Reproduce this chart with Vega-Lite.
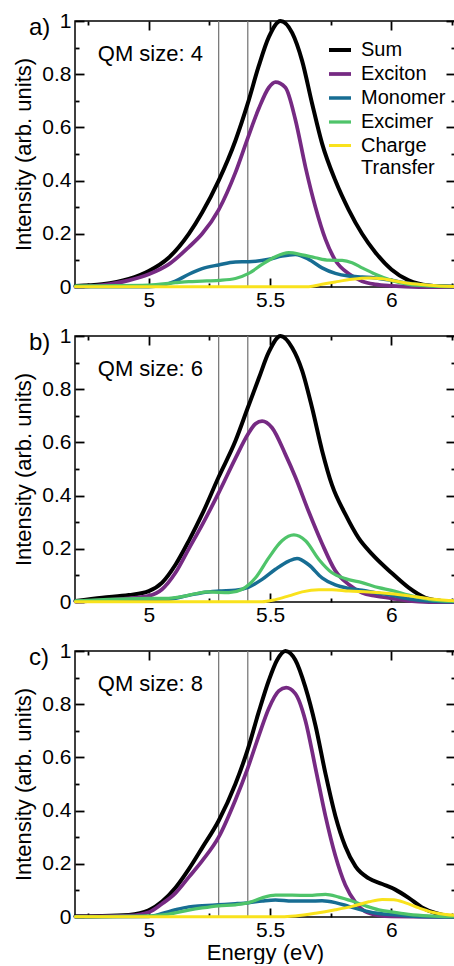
{
  "$schema": "https://vega.github.io/schema/vega-lite/v6.json",
  "padding": {"left": 12, "top": 9, "right": 0, "bottom": 0},
  "spacing": 49,
  "bounds": "flush",
  "config": {
    "font": "Liberation Sans",
    "view": {"stroke": "#000", "strokeWidth": 1.5},
    "axis": {"grid": false, "domain": false, "ticks": true, "tickColor": "#000", "tickWidth": 1.8, "labelColor": "#000", "titleColor": "#000", "labelFontSize": 21, "titleFontSize": 22, "titleFontWeight": "normal", "labelFlush": false, "labelOverlap": false, "labelBound": false, "format": "~g", "offset": -9, "tickSize": 9},
    "text": {"font": "Liberation Sans", "color": "#000"}
  },
  "resolve": {"scale": {"color": "independent", "strokeWidth": "independent"}, "legend": {"color": "independent", "strokeWidth": "independent"}},
  "datasets": {
    "vlines": [{"x": 5.288}, {"x": 5.408}],
    "labels": [
      {"p": "a", "tag": "a)", "qm": "QM size: 4"},
      {"p": "b", "tag": "b)", "qm": "QM size: 6"},
      {"p": "c", "tag": "c)", "qm": "QM size: 8"}
    ],
    "curves": [
      {"p":"a","s":"Sum","x":4.698,"y":0.004},{"p":"a","s":"Sum","x":4.808,"y":0.01},{"p":"a","s":"Sum","x":4.918,"y":0.03},{"p":"a","s":"Sum","x":5.0,"y":0.06},{"p":"a","s":"Sum","x":5.082,"y":0.11},{"p":"a","s":"Sum","x":5.165,"y":0.2},{"p":"a","s":"Sum","x":5.22,"y":0.28},{"p":"a","s":"Sum","x":5.288,"y":0.4},{"p":"a","s":"Sum","x":5.357,"y":0.55},{"p":"a","s":"Sum","x":5.408,"y":0.69},{"p":"a","s":"Sum","x":5.453,"y":0.83},{"p":"a","s":"Sum","x":5.495,"y":0.94},{"p":"a","s":"Sum","x":5.543,"y":1.0},{"p":"a","s":"Sum","x":5.591,"y":0.955},{"p":"a","s":"Sum","x":5.632,"y":0.85},{"p":"a","s":"Sum","x":5.673,"y":0.69},{"p":"a","s":"Sum","x":5.714,"y":0.54},{"p":"a","s":"Sum","x":5.769,"y":0.4},{"p":"a","s":"Sum","x":5.824,"y":0.29},{"p":"a","s":"Sum","x":5.879,"y":0.2},{"p":"a","s":"Sum","x":5.934,"y":0.13},{"p":"a","s":"Sum","x":6.0,"y":0.066},{"p":"a","s":"Sum","x":6.071,"y":0.025},{"p":"a","s":"Sum","x":6.154,"y":0.006},{"p":"a","s":"Sum","x":6.26,"y":0.001},
      {"p":"a","s":"Exciton","x":4.698,"y":0.0},{"p":"a","s":"Exciton","x":4.808,"y":0.007},{"p":"a","s":"Exciton","x":4.918,"y":0.025},{"p":"a","s":"Exciton","x":5.0,"y":0.048},{"p":"a","s":"Exciton","x":5.082,"y":0.085},{"p":"a","s":"Exciton","x":5.165,"y":0.15},{"p":"a","s":"Exciton","x":5.22,"y":0.2},{"p":"a","s":"Exciton","x":5.288,"y":0.29},{"p":"a","s":"Exciton","x":5.357,"y":0.43},{"p":"a","s":"Exciton","x":5.408,"y":0.56},{"p":"a","s":"Exciton","x":5.453,"y":0.67},{"p":"a","s":"Exciton","x":5.495,"y":0.75},{"p":"a","s":"Exciton","x":5.522,"y":0.77},{"p":"a","s":"Exciton","x":5.563,"y":0.75},{"p":"a","s":"Exciton","x":5.604,"y":0.63},{"p":"a","s":"Exciton","x":5.646,"y":0.45},{"p":"a","s":"Exciton","x":5.687,"y":0.3},{"p":"a","s":"Exciton","x":5.728,"y":0.18},{"p":"a","s":"Exciton","x":5.769,"y":0.1},{"p":"a","s":"Exciton","x":5.824,"y":0.05},{"p":"a","s":"Exciton","x":5.879,"y":0.022},{"p":"a","s":"Exciton","x":5.934,"y":0.01},{"p":"a","s":"Exciton","x":6.0,"y":0.004},{"p":"a","s":"Exciton","x":6.113,"y":0.0},{"p":"a","s":"Exciton","x":6.26,"y":0.0},
      {"p":"a","s":"Monomer","x":4.698,"y":0.001},{"p":"a","s":"Monomer","x":5.0,"y":0.001},{"p":"a","s":"Monomer","x":5.055,"y":0.006},{"p":"a","s":"Monomer","x":5.11,"y":0.022},{"p":"a","s":"Monomer","x":5.165,"y":0.048},{"p":"a","s":"Monomer","x":5.22,"y":0.069},{"p":"a","s":"Monomer","x":5.288,"y":0.083},{"p":"a","s":"Monomer","x":5.357,"y":0.094},{"p":"a","s":"Monomer","x":5.412,"y":0.095},{"p":"a","s":"Monomer","x":5.495,"y":0.104},{"p":"a","s":"Monomer","x":5.549,"y":0.116},{"p":"a","s":"Monomer","x":5.604,"y":0.122},{"p":"a","s":"Monomer","x":5.659,"y":0.104},{"p":"a","s":"Monomer","x":5.714,"y":0.072},{"p":"a","s":"Monomer","x":5.769,"y":0.051},{"p":"a","s":"Monomer","x":5.824,"y":0.041},{"p":"a","s":"Monomer","x":5.879,"y":0.0375},{"p":"a","s":"Monomer","x":5.934,"y":0.034},{"p":"a","s":"Monomer","x":6.0,"y":0.025},{"p":"a","s":"Monomer","x":6.071,"y":0.014},{"p":"a","s":"Monomer","x":6.154,"y":0.006},{"p":"a","s":"Monomer","x":6.26,"y":0.002},
      {"p":"a","s":"Excimer","x":4.698,"y":0.004},{"p":"a","s":"Excimer","x":5.0,"y":0.007},{"p":"a","s":"Excimer","x":5.11,"y":0.016},{"p":"a","s":"Excimer","x":5.165,"y":0.02},{"p":"a","s":"Excimer","x":5.22,"y":0.022},{"p":"a","s":"Excimer","x":5.288,"y":0.025},{"p":"a","s":"Excimer","x":5.357,"y":0.032},{"p":"a","s":"Excimer","x":5.412,"y":0.051},{"p":"a","s":"Excimer","x":5.467,"y":0.085},{"p":"a","s":"Excimer","x":5.522,"y":0.114},{"p":"a","s":"Excimer","x":5.577,"y":0.129},{"p":"a","s":"Excimer","x":5.632,"y":0.121},{"p":"a","s":"Excimer","x":5.687,"y":0.11},{"p":"a","s":"Excimer","x":5.742,"y":0.101},{"p":"a","s":"Excimer","x":5.797,"y":0.1},{"p":"a","s":"Excimer","x":5.838,"y":0.091},{"p":"a","s":"Excimer","x":5.879,"y":0.072},{"p":"a","s":"Excimer","x":5.934,"y":0.048},{"p":"a","s":"Excimer","x":6.0,"y":0.025},{"p":"a","s":"Excimer","x":6.071,"y":0.01},{"p":"a","s":"Excimer","x":6.154,"y":0.004},{"p":"a","s":"Excimer","x":6.26,"y":0.001},
      {"p":"a","s":"Charge Transfer","x":4.698,"y":0.001},{"p":"a","s":"Charge Transfer","x":5.659,"y":0.001},{"p":"a","s":"Charge Transfer","x":5.714,"y":0.01},{"p":"a","s":"Charge Transfer","x":5.769,"y":0.019},{"p":"a","s":"Charge Transfer","x":5.838,"y":0.029},{"p":"a","s":"Charge Transfer","x":5.907,"y":0.034},{"p":"a","s":"Charge Transfer","x":5.962,"y":0.031},{"p":"a","s":"Charge Transfer","x":6.0,"y":0.025},{"p":"a","s":"Charge Transfer","x":6.071,"y":0.014},{"p":"a","s":"Charge Transfer","x":6.154,"y":0.007},{"p":"a","s":"Charge Transfer","x":6.26,"y":0.002},

      {"p":"b","s":"Sum","x":4.698,"y":0.004},{"p":"b","s":"Sum","x":4.808,"y":0.016},{"p":"b","s":"Sum","x":4.918,"y":0.026},{"p":"b","s":"Sum","x":5.0,"y":0.041},{"p":"b","s":"Sum","x":5.055,"y":0.073},{"p":"b","s":"Sum","x":5.11,"y":0.14},{"p":"b","s":"Sum","x":5.165,"y":0.23},{"p":"b","s":"Sum","x":5.22,"y":0.33},{"p":"b","s":"Sum","x":5.288,"y":0.47},{"p":"b","s":"Sum","x":5.357,"y":0.605},{"p":"b","s":"Sum","x":5.408,"y":0.73},{"p":"b","s":"Sum","x":5.453,"y":0.84},{"p":"b","s":"Sum","x":5.495,"y":0.94},{"p":"b","s":"Sum","x":5.543,"y":1.0},{"p":"b","s":"Sum","x":5.591,"y":0.956},{"p":"b","s":"Sum","x":5.632,"y":0.87},{"p":"b","s":"Sum","x":5.673,"y":0.73},{"p":"b","s":"Sum","x":5.714,"y":0.57},{"p":"b","s":"Sum","x":5.755,"y":0.44},{"p":"b","s":"Sum","x":5.81,"y":0.33},{"p":"b","s":"Sum","x":5.865,"y":0.24},{"p":"b","s":"Sum","x":5.92,"y":0.18},{"p":"b","s":"Sum","x":6.0,"y":0.11},{"p":"b","s":"Sum","x":6.071,"y":0.054},{"p":"b","s":"Sum","x":6.14,"y":0.016},{"p":"b","s":"Sum","x":6.209,"y":0.004},{"p":"b","s":"Sum","x":6.26,"y":0.001},
      {"p":"b","s":"Exciton","x":4.698,"y":0.001},{"p":"b","s":"Exciton","x":4.808,"y":0.006},{"p":"b","s":"Exciton","x":4.918,"y":0.014},{"p":"b","s":"Exciton","x":5.0,"y":0.023},{"p":"b","s":"Exciton","x":5.055,"y":0.048},{"p":"b","s":"Exciton","x":5.11,"y":0.11},{"p":"b","s":"Exciton","x":5.165,"y":0.2},{"p":"b","s":"Exciton","x":5.22,"y":0.29},{"p":"b","s":"Exciton","x":5.288,"y":0.41},{"p":"b","s":"Exciton","x":5.357,"y":0.54},{"p":"b","s":"Exciton","x":5.408,"y":0.63},{"p":"b","s":"Exciton","x":5.44,"y":0.67},{"p":"b","s":"Exciton","x":5.467,"y":0.68},{"p":"b","s":"Exciton","x":5.508,"y":0.655},{"p":"b","s":"Exciton","x":5.563,"y":0.555},{"p":"b","s":"Exciton","x":5.604,"y":0.47},{"p":"b","s":"Exciton","x":5.659,"y":0.34},{"p":"b","s":"Exciton","x":5.714,"y":0.22},{"p":"b","s":"Exciton","x":5.769,"y":0.117},{"p":"b","s":"Exciton","x":5.824,"y":0.066},{"p":"b","s":"Exciton","x":5.879,"y":0.035},{"p":"b","s":"Exciton","x":5.934,"y":0.023},{"p":"b","s":"Exciton","x":6.0,"y":0.014},{"p":"b","s":"Exciton","x":6.071,"y":0.004},{"p":"b","s":"Exciton","x":6.154,"y":0.0},{"p":"b","s":"Exciton","x":6.26,"y":0.0},
      {"p":"b","s":"Monomer","x":4.698,"y":0.003},{"p":"b","s":"Monomer","x":5.0,"y":0.003},{"p":"b","s":"Monomer","x":5.082,"y":0.01},{"p":"b","s":"Monomer","x":5.165,"y":0.025},{"p":"b","s":"Monomer","x":5.22,"y":0.035},{"p":"b","s":"Monomer","x":5.288,"y":0.041},{"p":"b","s":"Monomer","x":5.357,"y":0.044},{"p":"b","s":"Monomer","x":5.412,"y":0.056},{"p":"b","s":"Monomer","x":5.467,"y":0.085},{"p":"b","s":"Monomer","x":5.522,"y":0.123},{"p":"b","s":"Monomer","x":5.577,"y":0.154},{"p":"b","s":"Monomer","x":5.611,"y":0.164},{"p":"b","s":"Monomer","x":5.659,"y":0.14},{"p":"b","s":"Monomer","x":5.714,"y":0.091},{"p":"b","s":"Monomer","x":5.769,"y":0.064},{"p":"b","s":"Monomer","x":5.824,"y":0.051},{"p":"b","s":"Monomer","x":5.879,"y":0.044},{"p":"b","s":"Monomer","x":5.934,"y":0.035},{"p":"b","s":"Monomer","x":6.0,"y":0.025},{"p":"b","s":"Monomer","x":6.071,"y":0.0125},{"p":"b","s":"Monomer","x":6.154,"y":0.004},{"p":"b","s":"Monomer","x":6.26,"y":0.001},
      {"p":"b","s":"Excimer","x":4.698,"y":0.004},{"p":"b","s":"Excimer","x":5.0,"y":0.014},{"p":"b","s":"Excimer","x":5.082,"y":0.014},{"p":"b","s":"Excimer","x":5.137,"y":0.02},{"p":"b","s":"Excimer","x":5.192,"y":0.031},{"p":"b","s":"Excimer","x":5.247,"y":0.038},{"p":"b","s":"Excimer","x":5.33,"y":0.035},{"p":"b","s":"Excimer","x":5.385,"y":0.048},{"p":"b","s":"Excimer","x":5.44,"y":0.091},{"p":"b","s":"Excimer","x":5.495,"y":0.167},{"p":"b","s":"Excimer","x":5.549,"y":0.23},{"p":"b","s":"Excimer","x":5.598,"y":0.252},{"p":"b","s":"Excimer","x":5.646,"y":0.23},{"p":"b","s":"Excimer","x":5.701,"y":0.16},{"p":"b","s":"Excimer","x":5.755,"y":0.11},{"p":"b","s":"Excimer","x":5.81,"y":0.088},{"p":"b","s":"Excimer","x":5.879,"y":0.073},{"p":"b","s":"Excimer","x":5.948,"y":0.054},{"p":"b","s":"Excimer","x":6.0,"y":0.044},{"p":"b","s":"Excimer","x":6.071,"y":0.026},{"p":"b","s":"Excimer","x":6.154,"y":0.01},{"p":"b","s":"Excimer","x":6.26,"y":0.002},
      {"p":"b","s":"Charge Transfer","x":4.698,"y":0.001},{"p":"b","s":"Charge Transfer","x":5.467,"y":0.001},{"p":"b","s":"Charge Transfer","x":5.522,"y":0.009},{"p":"b","s":"Charge Transfer","x":5.577,"y":0.023},{"p":"b","s":"Charge Transfer","x":5.632,"y":0.038},{"p":"b","s":"Charge Transfer","x":5.701,"y":0.046},{"p":"b","s":"Charge Transfer","x":5.755,"y":0.046},{"p":"b","s":"Charge Transfer","x":5.824,"y":0.041},{"p":"b","s":"Charge Transfer","x":5.907,"y":0.038},{"p":"b","s":"Charge Transfer","x":6.0,"y":0.031},{"p":"b","s":"Charge Transfer","x":6.071,"y":0.023},{"p":"b","s":"Charge Transfer","x":6.154,"y":0.0125},{"p":"b","s":"Charge Transfer","x":6.236,"y":0.006},{"p":"b","s":"Charge Transfer","x":6.26,"y":0.005},

      {"p":"c","s":"Sum","x":4.698,"y":0.003},{"p":"c","s":"Sum","x":4.808,"y":0.004},{"p":"c","s":"Sum","x":4.918,"y":0.008},{"p":"c","s":"Sum","x":5.0,"y":0.025},{"p":"c","s":"Sum","x":5.055,"y":0.058},{"p":"c","s":"Sum","x":5.11,"y":0.11},{"p":"c","s":"Sum","x":5.165,"y":0.18},{"p":"c","s":"Sum","x":5.22,"y":0.26},{"p":"c","s":"Sum","x":5.288,"y":0.362},{"p":"c","s":"Sum","x":5.357,"y":0.5},{"p":"c","s":"Sum","x":5.408,"y":0.63},{"p":"c","s":"Sum","x":5.453,"y":0.77},{"p":"c","s":"Sum","x":5.495,"y":0.89},{"p":"c","s":"Sum","x":5.529,"y":0.966},{"p":"c","s":"Sum","x":5.563,"y":1.0},{"p":"c","s":"Sum","x":5.604,"y":0.966},{"p":"c","s":"Sum","x":5.645,"y":0.865},{"p":"c","s":"Sum","x":5.687,"y":0.72},{"p":"c","s":"Sum","x":5.728,"y":0.54},{"p":"c","s":"Sum","x":5.769,"y":0.38},{"p":"c","s":"Sum","x":5.81,"y":0.265},{"p":"c","s":"Sum","x":5.852,"y":0.19},{"p":"c","s":"Sum","x":5.907,"y":0.145},{"p":"c","s":"Sum","x":5.962,"y":0.124},{"p":"c","s":"Sum","x":6.016,"y":0.103},{"p":"c","s":"Sum","x":6.071,"y":0.072},{"p":"c","s":"Sum","x":6.126,"y":0.036},{"p":"c","s":"Sum","x":6.181,"y":0.015},{"p":"c","s":"Sum","x":6.236,"y":0.004},{"p":"c","s":"Sum","x":6.26,"y":0.002},
      {"p":"c","s":"Exciton","x":4.698,"y":0.001},{"p":"c","s":"Exciton","x":4.918,"y":0.005},{"p":"c","s":"Exciton","x":5.0,"y":0.018},{"p":"c","s":"Exciton","x":5.055,"y":0.05},{"p":"c","s":"Exciton","x":5.11,"y":0.09},{"p":"c","s":"Exciton","x":5.165,"y":0.15},{"p":"c","s":"Exciton","x":5.22,"y":0.211},{"p":"c","s":"Exciton","x":5.288,"y":0.3},{"p":"c","s":"Exciton","x":5.357,"y":0.44},{"p":"c","s":"Exciton","x":5.408,"y":0.56},{"p":"c","s":"Exciton","x":5.453,"y":0.68},{"p":"c","s":"Exciton","x":5.495,"y":0.785},{"p":"c","s":"Exciton","x":5.536,"y":0.85},{"p":"c","s":"Exciton","x":5.566,"y":0.862},{"p":"c","s":"Exciton","x":5.604,"y":0.84},{"p":"c","s":"Exciton","x":5.645,"y":0.74},{"p":"c","s":"Exciton","x":5.687,"y":0.56},{"p":"c","s":"Exciton","x":5.728,"y":0.38},{"p":"c","s":"Exciton","x":5.769,"y":0.23},{"p":"c","s":"Exciton","x":5.81,"y":0.12},{"p":"c","s":"Exciton","x":5.852,"y":0.055},{"p":"c","s":"Exciton","x":5.893,"y":0.02},{"p":"c","s":"Exciton","x":5.948,"y":0.006},{"p":"c","s":"Exciton","x":6.0,"y":0.002},{"p":"c","s":"Exciton","x":6.26,"y":0.0},
      {"p":"c","s":"Monomer","x":4.698,"y":0.001},{"p":"c","s":"Monomer","x":5.0,"y":0.002},{"p":"c","s":"Monomer","x":5.055,"y":0.013},{"p":"c","s":"Monomer","x":5.11,"y":0.027},{"p":"c","s":"Monomer","x":5.165,"y":0.038},{"p":"c","s":"Monomer","x":5.22,"y":0.042},{"p":"c","s":"Monomer","x":5.288,"y":0.046},{"p":"c","s":"Monomer","x":5.357,"y":0.05},{"p":"c","s":"Monomer","x":5.412,"y":0.054},{"p":"c","s":"Monomer","x":5.467,"y":0.06},{"p":"c","s":"Monomer","x":5.522,"y":0.064},{"p":"c","s":"Monomer","x":5.591,"y":0.06},{"p":"c","s":"Monomer","x":5.659,"y":0.06},{"p":"c","s":"Monomer","x":5.714,"y":0.061},{"p":"c","s":"Monomer","x":5.769,"y":0.054},{"p":"c","s":"Monomer","x":5.824,"y":0.04},{"p":"c","s":"Monomer","x":5.879,"y":0.026},{"p":"c","s":"Monomer","x":5.934,"y":0.015},{"p":"c","s":"Monomer","x":6.0,"y":0.009},{"p":"c","s":"Monomer","x":6.071,"y":0.004},{"p":"c","s":"Monomer","x":6.154,"y":0.001},{"p":"c","s":"Monomer","x":6.26,"y":0.0},
      {"p":"c","s":"Excimer","x":4.698,"y":0.001},{"p":"c","s":"Excimer","x":5.0,"y":0.004},{"p":"c","s":"Excimer","x":5.082,"y":0.011},{"p":"c","s":"Excimer","x":5.165,"y":0.026},{"p":"c","s":"Excimer","x":5.22,"y":0.034},{"p":"c","s":"Excimer","x":5.288,"y":0.042},{"p":"c","s":"Excimer","x":5.357,"y":0.046},{"p":"c","s":"Excimer","x":5.412,"y":0.054},{"p":"c","s":"Excimer","x":5.467,"y":0.072},{"p":"c","s":"Excimer","x":5.522,"y":0.082},{"p":"c","s":"Excimer","x":5.591,"y":0.082},{"p":"c","s":"Excimer","x":5.659,"y":0.081},{"p":"c","s":"Excimer","x":5.728,"y":0.085},{"p":"c","s":"Excimer","x":5.783,"y":0.075},{"p":"c","s":"Excimer","x":5.838,"y":0.06},{"p":"c","s":"Excimer","x":5.893,"y":0.042},{"p":"c","s":"Excimer","x":5.948,"y":0.027},{"p":"c","s":"Excimer","x":6.0,"y":0.019},{"p":"c","s":"Excimer","x":6.071,"y":0.01},{"p":"c","s":"Excimer","x":6.154,"y":0.004},{"p":"c","s":"Excimer","x":6.26,"y":0.001},
      {"p":"c","s":"Charge Transfer","x":4.698,"y":0.001},{"p":"c","s":"Charge Transfer","x":5.549,"y":0.001},{"p":"c","s":"Charge Transfer","x":5.604,"y":0.004},{"p":"c","s":"Charge Transfer","x":5.687,"y":0.014},{"p":"c","s":"Charge Transfer","x":5.769,"y":0.027},{"p":"c","s":"Charge Transfer","x":5.838,"y":0.04},{"p":"c","s":"Charge Transfer","x":5.907,"y":0.057},{"p":"c","s":"Charge Transfer","x":5.962,"y":0.066},{"p":"c","s":"Charge Transfer","x":6.01,"y":0.065},{"p":"c","s":"Charge Transfer","x":6.058,"y":0.053},{"p":"c","s":"Charge Transfer","x":6.113,"y":0.034},{"p":"c","s":"Charge Transfer","x":6.168,"y":0.018},{"p":"c","s":"Charge Transfer","x":6.223,"y":0.009},{"p":"c","s":"Charge Transfer","x":6.26,"y":0.006}
    ]
  },
  "vconcat": [
    {
      "width": 380, "height": 266,
      "layer": [
        {"data": {"name": "vlines"}, "mark": {"type": "rule", "color": "#7b7b7b", "strokeWidth": 1.3},
         "encoding": {
           "x": {"field": "x", "type": "quantitative", "scale": {"domain": [4.696, 6.262], "nice": false, "zero": false}, "axis": {"orient": "top", "title": null, "labels": false, "values": [4.75, 5.25, 5.75, 6.25], "tickSize": 4, "offset": -4}},
           "y": {"datum": 0, "type": "quantitative", "scale": {"domain": [0, 1], "nice": false, "zero": false}, "axis": {"orient": "right", "title": null, "labels": false, "values": [0.1, 0.3, 0.5, 0.7, 0.9], "tickSize": 4, "offset": -4}},
           "y2": {"datum": 1}}},
        {"data": {"name": "curves"}, "transform": [{"filter": "datum.p == 'a'"}],
         "mark": {"type": "line", "interpolate": "monotone", "strokeCap": "round", "strokeJoin": "round"},
         "encoding": {
           "x": {"field": "x", "type": "quantitative", "scale": {"domain": [4.696, 6.262], "nice": false, "zero": false},
                 "axis": {"orient": "bottom", "title": null, "values": [5, 5.5, 6], "labelPadding": 2}},
           "y": {"field": "y", "type": "quantitative", "scale": {"domain": [0, 1], "nice": false, "zero": false},
                 "axis": {"orient": "left", "title": "Intensity (arb. units)", "titlePadding": 6, "values": [0, 0.2, 0.4, 0.6, 0.8, 1], "labelPadding": 4}},
           "color": {"field": "s", "type": "nominal", "scale": {"domain": ["Sum", "Exciton", "Monomer", "Excimer", "Charge Transfer"], "range": ["#000000", "#762a83", "#176d93", "#4fc46a", "#f9e21c"]},
                     "legend": {"orient": "none", "legendX": 252, "legendY": 16, "title": null, "symbolType": "stroke", "symbolSize": 484, "symbolStrokeWidth": 3.5, "labelFontSize": 20, "labelOffset": 8, "rowPadding": 1, "padding": 0, "labelLimit": 0, "labelExpr": "datum.label == 'Charge Transfer' ? ['Charge', 'Transfer'] : datum.label"}},
           "strokeWidth": {"field": "s", "type": "nominal", "scale": {"domain": ["Sum", "Exciton", "Monomer", "Excimer", "Charge Transfer"], "range": [4, 3, 3, 3, 3]}, "legend": null}
         }},
        {"data": {"name": "labels"}, "transform": [{"filter": "datum.p == 'a'"}],
         "mark": {"type": "text", "align": "left", "baseline": "alphabetic", "fontSize": 22},
         "encoding": {
           "x": {"datum": 4.79, "type": "quantitative", "axis": {"orient": "top", "title": null, "labels": false, "values": [5, 5.5, 6]}},
           "y": {"datum": 0.848, "type": "quantitative", "axis": {"orient": "right", "title": null, "labels": false, "values": [0, 0.2, 0.4, 0.6, 0.8, 1]}},
           "text": {"field": "qm"}}},
        {"data": {"name": "labels"}, "transform": [{"filter": "datum.p == 'a'"}],
         "mark": {"type": "text", "align": "left", "baseline": "alphabetic", "fontSize": 24},
         "encoding": {
           "x": {"datum": 4.506, "type": "quantitative", "axis": {"orient": "bottom", "title": null, "labels": false, "values": [4.75, 5.25, 5.75, 6.25], "tickSize": 4, "offset": -4}},
           "y": {"datum": 0.948, "type": "quantitative", "axis": {"orient": "left", "title": null, "labels": false, "values": [0.1, 0.3, 0.5, 0.7, 0.9], "tickSize": 4, "offset": -4}},
           "text": {"field": "tag"}}}
      ],
      "resolve": {"axis": {"x": "independent", "y": "independent"}}
    },
    {
      "width": 380, "height": 266,
      "layer": [
        {"data": {"name": "vlines"}, "mark": {"type": "rule", "color": "#7b7b7b", "strokeWidth": 1.3},
         "encoding": {
           "x": {"field": "x", "type": "quantitative", "scale": {"domain": [4.696, 6.262], "nice": false, "zero": false}, "axis": {"orient": "top", "title": null, "labels": false, "values": [4.75, 5.25, 5.75, 6.25], "tickSize": 4, "offset": -4}},
           "y": {"datum": 0, "type": "quantitative", "scale": {"domain": [0, 1], "nice": false, "zero": false}, "axis": {"orient": "right", "title": null, "labels": false, "values": [0.1, 0.3, 0.5, 0.7, 0.9], "tickSize": 4, "offset": -4}},
           "y2": {"datum": 1}}},
        {"data": {"name": "curves"}, "transform": [{"filter": "datum.p == 'b'"}],
         "mark": {"type": "line", "interpolate": "monotone", "strokeCap": "round", "strokeJoin": "round"},
         "encoding": {
           "x": {"field": "x", "type": "quantitative", "scale": {"domain": [4.696, 6.262], "nice": false, "zero": false},
                 "axis": {"orient": "bottom", "title": null, "values": [5, 5.5, 6], "labelPadding": 2}},
           "y": {"field": "y", "type": "quantitative", "scale": {"domain": [0, 1], "nice": false, "zero": false},
                 "axis": {"orient": "left", "title": "Intensity (arb. units)", "titlePadding": 6, "values": [0, 0.2, 0.4, 0.6, 0.8, 1], "labelPadding": 4}},
           "color": {"field": "s", "type": "nominal", "scale": {"domain": ["Sum", "Exciton", "Monomer", "Excimer", "Charge Transfer"], "range": ["#000000", "#762a83", "#176d93", "#4fc46a", "#f9e21c"]}, "legend": null},
           "strokeWidth": {"field": "s", "type": "nominal", "scale": {"domain": ["Sum", "Exciton", "Monomer", "Excimer", "Charge Transfer"], "range": [4, 3, 3, 3, 3]}, "legend": null}
         }},
        {"data": {"name": "labels"}, "transform": [{"filter": "datum.p == 'b'"}],
         "mark": {"type": "text", "align": "left", "baseline": "alphabetic", "fontSize": 22},
         "encoding": {
           "x": {"datum": 4.79, "type": "quantitative", "axis": {"orient": "top", "title": null, "labels": false, "values": [5, 5.5, 6]}},
           "y": {"datum": 0.848, "type": "quantitative", "axis": {"orient": "right", "title": null, "labels": false, "values": [0, 0.2, 0.4, 0.6, 0.8, 1]}},
           "text": {"field": "qm"}}},
        {"data": {"name": "labels"}, "transform": [{"filter": "datum.p == 'b'"}],
         "mark": {"type": "text", "align": "left", "baseline": "alphabetic", "fontSize": 24},
         "encoding": {
           "x": {"datum": 4.506, "type": "quantitative", "axis": {"orient": "bottom", "title": null, "labels": false, "values": [4.75, 5.25, 5.75, 6.25], "tickSize": 4, "offset": -4}},
           "y": {"datum": 0.948, "type": "quantitative", "axis": {"orient": "left", "title": null, "labels": false, "values": [0.1, 0.3, 0.5, 0.7, 0.9], "tickSize": 4, "offset": -4}},
           "text": {"field": "tag"}}}
      ],
      "resolve": {"axis": {"x": "independent", "y": "independent"}}
    },
    {
      "width": 380, "height": 266,
      "layer": [
        {"data": {"name": "vlines"}, "mark": {"type": "rule", "color": "#7b7b7b", "strokeWidth": 1.3},
         "encoding": {
           "x": {"field": "x", "type": "quantitative", "scale": {"domain": [4.696, 6.262], "nice": false, "zero": false}, "axis": {"orient": "top", "title": null, "labels": false, "values": [4.75, 5.25, 5.75, 6.25], "tickSize": 4, "offset": -4}},
           "y": {"datum": 0, "type": "quantitative", "scale": {"domain": [0, 1], "nice": false, "zero": false}, "axis": {"orient": "right", "title": null, "labels": false, "values": [0.1, 0.3, 0.5, 0.7, 0.9], "tickSize": 4, "offset": -4}},
           "y2": {"datum": 1}}},
        {"data": {"name": "curves"}, "transform": [{"filter": "datum.p == 'c'"}],
         "mark": {"type": "line", "interpolate": "monotone", "strokeCap": "round", "strokeJoin": "round"},
         "encoding": {
           "x": {"field": "x", "type": "quantitative", "scale": {"domain": [4.696, 6.262], "nice": false, "zero": false},
                 "axis": {"orient": "bottom", "title": "Energy (eV)", "titlePadding": 2, "values": [5, 5.5, 6], "labelPadding": 2}},
           "y": {"field": "y", "type": "quantitative", "scale": {"domain": [0, 1], "nice": false, "zero": false},
                 "axis": {"orient": "left", "title": "Intensity (arb. units)", "titlePadding": 6, "values": [0, 0.2, 0.4, 0.6, 0.8, 1], "labelPadding": 4}},
           "color": {"field": "s", "type": "nominal", "scale": {"domain": ["Sum", "Exciton", "Monomer", "Excimer", "Charge Transfer"], "range": ["#000000", "#762a83", "#176d93", "#4fc46a", "#f9e21c"]}, "legend": null},
           "strokeWidth": {"field": "s", "type": "nominal", "scale": {"domain": ["Sum", "Exciton", "Monomer", "Excimer", "Charge Transfer"], "range": [4, 3, 3, 3, 3]}, "legend": null}
         }},
        {"data": {"name": "labels"}, "transform": [{"filter": "datum.p == 'c'"}],
         "mark": {"type": "text", "align": "left", "baseline": "alphabetic", "fontSize": 22},
         "encoding": {
           "x": {"datum": 4.79, "type": "quantitative", "axis": {"orient": "top", "title": null, "labels": false, "values": [5, 5.5, 6]}},
           "y": {"datum": 0.848, "type": "quantitative", "axis": {"orient": "right", "title": null, "labels": false, "values": [0, 0.2, 0.4, 0.6, 0.8, 1]}},
           "text": {"field": "qm"}}},
        {"data": {"name": "labels"}, "transform": [{"filter": "datum.p == 'c'"}],
         "mark": {"type": "text", "align": "left", "baseline": "alphabetic", "fontSize": 24},
         "encoding": {
           "x": {"datum": 4.506, "type": "quantitative", "axis": {"orient": "bottom", "title": null, "labels": false, "values": [4.75, 5.25, 5.75, 6.25], "tickSize": 4, "offset": -4}},
           "y": {"datum": 0.948, "type": "quantitative", "axis": {"orient": "left", "title": null, "labels": false, "values": [0.1, 0.3, 0.5, 0.7, 0.9], "tickSize": 4, "offset": -4}},
           "text": {"field": "tag"}}}
      ],
      "resolve": {"axis": {"x": "independent", "y": "independent"}}
    }
  ]
}
